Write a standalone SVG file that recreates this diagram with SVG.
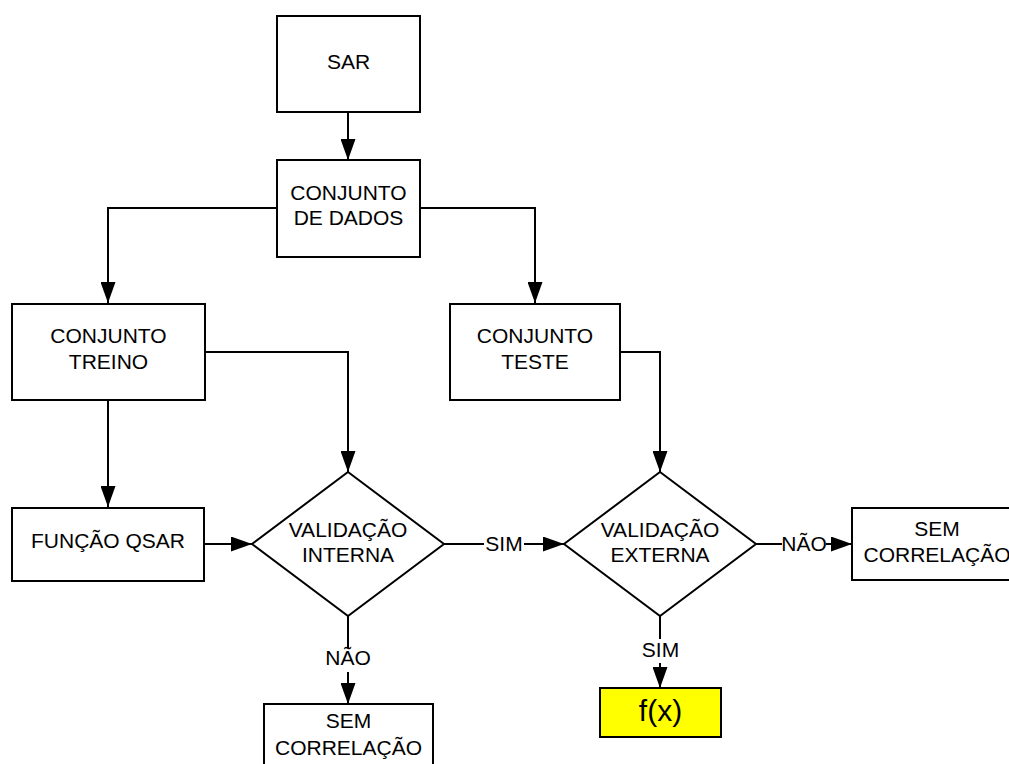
<svg xmlns="http://www.w3.org/2000/svg" width="1009" height="764" viewBox="0 0 1009 764">
  <style>
    .box { fill: #ffffff; stroke: #000000; stroke-width: 2; }
    .hl { fill: #ffff00; stroke: #000000; stroke-width: 2; }
    .t { font-family: "Liberation Sans", Arial, sans-serif; font-size: 21px; fill: #000000; text-anchor: middle; }
    .big { font-size: 30px; }
    .conn { fill: none; stroke: #000000; stroke-width: 2; }
    .lblbg { fill: #ffffff; stroke: none; }
  </style>
  <defs>
    <marker id="arrow" markerUnits="userSpaceOnUse" markerWidth="21" markerHeight="15" refX="21" refY="7.5" orient="auto">
      <path d="M0,0 L21,7.5 L0,15 Z" fill="#000000"/>
    </marker>
  </defs>
  <rect width="1009" height="764" fill="#ffffff"/>

  <g id="connectors">
    <path class="conn" d="M348,112 V160" marker-end="url(#arrow)"/>
    <path class="conn" d="M277,208 H108 V303" marker-end="url(#arrow)"/>
    <path class="conn" d="M420,208 H535 V303" marker-end="url(#arrow)"/>
    <path class="conn" d="M205,352 H348 V472" marker-end="url(#arrow)"/>
    <path class="conn" d="M108,400 V507" marker-end="url(#arrow)"/>
    <path class="conn" d="M204,544 H252" marker-end="url(#arrow)"/>
    <path class="conn" d="M613,352 H660 V472" marker-end="url(#arrow)"/>
    <g id="edge-interna-externa">
      <path class="conn" d="M444,544 H564" marker-end="url(#arrow)"/>
      <rect class="lblbg" x="484" y="533" width="40" height="20"/>
      <text class="t" x="504" y="551">SIM</text>
    </g>
    <g id="edge-externa-semcorr">
      <path class="conn" d="M756,544 H852" marker-end="url(#arrow)"/>
      <rect class="lblbg" x="782" y="533" width="44" height="20"/>
      <text class="t" x="804" y="551">NÃO</text>
    </g>
    <g id="edge-externa-fx">
      <path class="conn" d="M660,616 V688" marker-end="url(#arrow)"/>
      <rect class="lblbg" x="638" y="639" width="44" height="24"/>
      <text class="t" x="660.5" y="657">SIM</text>
    </g>
    <g id="edge-interna-semcorr">
      <path class="conn" d="M348,616 V704" marker-end="url(#arrow)"/>
      <rect class="lblbg" x="325" y="648" width="46" height="24"/>
      <text class="t" x="348" y="665">NÃO</text>
    </g>
  </g>

  <g id="node-sar">
    <rect class="box" x="277" y="16" width="143" height="96"/>
    <text class="t" x="348.5" y="69">SAR</text>
  </g>
  <g id="node-dados">
    <rect class="box" x="277" y="160" width="143" height="97"/>
    <text class="t" x="348.5" y="200">CONJUNTO</text>
    <text class="t" x="348.5" y="225">DE DADOS</text>
  </g>
  <g id="node-treino">
    <rect class="box" x="12" y="304" width="193" height="96"/>
    <text class="t" x="108.5" y="343">CONJUNTO</text>
    <text class="t" x="108.5" y="369">TREINO</text>
  </g>
  <g id="node-teste">
    <rect class="box" x="450" y="304" width="170" height="96"/>
    <text class="t" x="535" y="343">CONJUNTO</text>
    <text class="t" x="535" y="369">TESTE</text>
  </g>
  <g id="node-funcao">
    <rect class="box" x="12" y="508" width="192" height="73"/>
    <text class="t" x="108" y="548">FUNÇÃO QSAR</text>
  </g>
  <g id="node-interna">
    <polygon class="box" points="348,472 444,544 348,616 252,544"/>
    <text class="t" x="348" y="537">VALIDAÇÃO</text>
    <text class="t" x="348" y="562">INTERNA</text>
  </g>
  <g id="node-externa">
    <polygon class="box" points="660,472 756,544 660,616 564,544"/>
    <text class="t" x="660" y="537">VALIDAÇÃO</text>
    <text class="t" x="660" y="562">EXTERNA</text>
  </g>
  <g id="node-semcorr-right">
    <rect class="box" x="852" y="508" width="170" height="72"/>
    <text class="t" x="937" y="536">SEM</text>
    <text class="t" x="937" y="562">CORRELAÇÃO</text>
  </g>
  <g id="node-fx">
    <rect class="hl" x="600" y="688" width="121" height="49"/>
    <text class="t big" x="660.5" y="721">f(x)</text>
  </g>
  <g id="node-semcorr-bottom">
    <rect class="box" x="264" y="704" width="169" height="74"/>
    <text class="t" x="348.5" y="728">SEM</text>
    <text class="t" x="348.5" y="755">CORRELAÇÃO</text>
  </g>
</svg>
